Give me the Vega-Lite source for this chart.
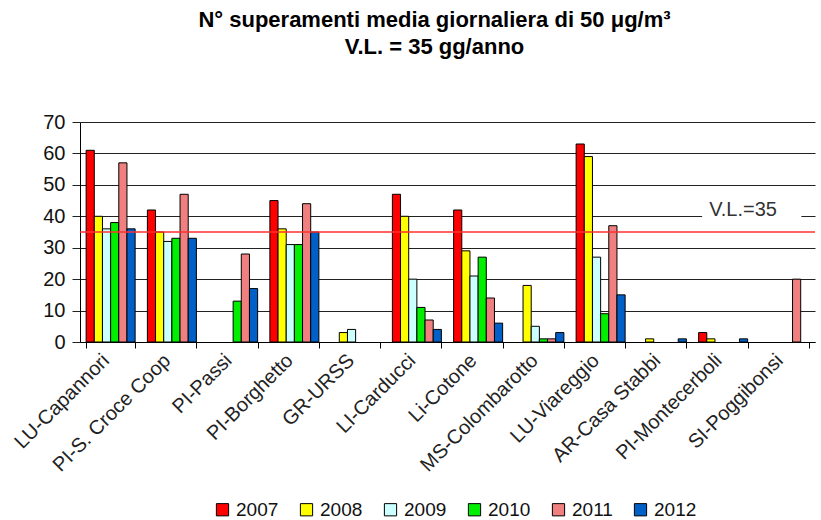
{
  "$schema": "https://vega.github.io/schema/vega-lite/v6.json",
  "width": 735,
  "height": 220,
  "autosize": {"type": "none"},
  "padding": {"left": 80, "top": 122, "right": 6, "bottom": 178},
  "background": "white",
  "config": {
    "view": {"stroke": null},
    "font": "Liberation Sans"
  },
  "title": {
    "text": ["N° superamenti media giornaliera di 50 μg/m³", "V.L. =  35 gg/anno"],
    "fontSize": 22,
    "fontWeight": "bold",
    "lineHeight": 27,
    "offset": 53,
    "anchor": "middle",
    "dx": -13,
    "color": "black",
    "font": "Liberation Sans"
  },
  "encoding": {
    "y": {
      "field": "value",
      "type": "quantitative",
      "scale": {"domain": [0, 70], "nice": false},
      "axis": {
        "title": null,
        "tickCount": 10,
        "values": [0, 10, 20, 30, 40, 50, 60, 70],
        "labelOverlap": false,
        "tickSize": 8,
        "labelFontSize": 20,
        "labelPadding": 7,
        "labelColor": "#111",
        "grid": true,
        "gridColor": "#222",
        "gridWidth": 1,
        "tickColor": "#222",
        "domainColor": "black"
      }
    }
  },
  "layer": [
    {
      "data": {
        "values": [
          {"station": "LU-Capannori", "year": "2007", "value": 61},
          {"station": "LU-Capannori", "year": "2008", "value": 40},
          {"station": "LU-Capannori", "year": "2009", "value": 36},
          {"station": "LU-Capannori", "year": "2010", "value": 38},
          {"station": "LU-Capannori", "year": "2011", "value": 57},
          {"station": "LU-Capannori", "year": "2012", "value": 36},
          {"station": "PI-S. Croce Coop", "year": "2007", "value": 42},
          {"station": "PI-S. Croce Coop", "year": "2008", "value": 35},
          {"station": "PI-S. Croce Coop", "year": "2009", "value": 32},
          {"station": "PI-S. Croce Coop", "year": "2010", "value": 33},
          {"station": "PI-S. Croce Coop", "year": "2011", "value": 47},
          {"station": "PI-S. Croce Coop", "year": "2012", "value": 33},
          {"station": "PI-Passi", "year": "2010", "value": 13},
          {"station": "PI-Passi", "year": "2011", "value": 28},
          {"station": "PI-Passi", "year": "2012", "value": 17},
          {"station": "PI-Borghetto", "year": "2007", "value": 45},
          {"station": "PI-Borghetto", "year": "2008", "value": 36},
          {"station": "PI-Borghetto", "year": "2009", "value": 31},
          {"station": "PI-Borghetto", "year": "2010", "value": 31},
          {"station": "PI-Borghetto", "year": "2011", "value": 44},
          {"station": "PI-Borghetto", "year": "2012", "value": 35},
          {"station": "GR-URSS", "year": "2008", "value": 3},
          {"station": "GR-URSS", "year": "2009", "value": 4},
          {"station": "LI-Carducci", "year": "2007", "value": 47},
          {"station": "LI-Carducci", "year": "2008", "value": 40},
          {"station": "LI-Carducci", "year": "2009", "value": 20},
          {"station": "LI-Carducci", "year": "2010", "value": 11},
          {"station": "LI-Carducci", "year": "2011", "value": 7},
          {"station": "LI-Carducci", "year": "2012", "value": 4},
          {"station": "Li-Cotone", "year": "2007", "value": 42},
          {"station": "Li-Cotone", "year": "2008", "value": 29},
          {"station": "Li-Cotone", "year": "2009", "value": 21},
          {"station": "Li-Cotone", "year": "2010", "value": 27},
          {"station": "Li-Cotone", "year": "2011", "value": 14},
          {"station": "Li-Cotone", "year": "2012", "value": 6},
          {"station": "MS-Colombarotto", "year": "2008", "value": 18},
          {"station": "MS-Colombarotto", "year": "2009", "value": 5},
          {"station": "MS-Colombarotto", "year": "2010", "value": 1},
          {"station": "MS-Colombarotto", "year": "2011", "value": 1},
          {"station": "MS-Colombarotto", "year": "2012", "value": 3},
          {"station": "LU-Viareggio", "year": "2007", "value": 63},
          {"station": "LU-Viareggio", "year": "2008", "value": 59},
          {"station": "LU-Viareggio", "year": "2009", "value": 27},
          {"station": "LU-Viareggio", "year": "2010", "value": 9},
          {"station": "LU-Viareggio", "year": "2011", "value": 37},
          {"station": "LU-Viareggio", "year": "2012", "value": 15},
          {"station": "AR-Casa Stabbi", "year": "2008", "value": 1},
          {"station": "AR-Casa Stabbi", "year": "2012", "value": 1},
          {"station": "PI-Montecerboli", "year": "2007", "value": 3},
          {"station": "PI-Montecerboli", "year": "2008", "value": 1},
          {"station": "PI-Montecerboli", "year": "2012", "value": 1},
          {"station": "SI-Poggibonsi", "year": "2011", "value": 20}
        ]
      },
      "mark": {"type": "bar", "stroke": "black", "strokeWidth": 1},
      "encoding": {
        "x": {
          "field": "station",
          "type": "nominal",
          "scale": {
            "domain": ["LU-Capannori", "PI-S. Croce Coop", "PI-Passi", "PI-Borghetto", "GR-URSS", "LI-Carducci", "Li-Cotone", "MS-Colombarotto", "LU-Viareggio", "AR-Casa Stabbi", "PI-Montecerboli", "SI-Poggibonsi"],
            "paddingInner": 0.2,
            "paddingOuter": 0.1
          },
          "axis": {
            "title": null,
            "tickBand": "extent",
            "labelAngle": -45,
            "labelFontSize": 20,
            "labelPadding": 2,
            "labelOffset": -12,
            "labelColor": "#222",
            "tickSize": 6,
            "tickColor": "black",
            "domainColor": "black",
            "grid": false
          }
        },
        "xOffset": {"field": "year", "type": "nominal"},
        "color": {
          "field": "year",
          "type": "nominal",
          "scale": {
            "domain": ["2007", "2008", "2009", "2010", "2011", "2012"],
            "range": ["#FF0000", "#FFFF00", "#CCFFFF", "#00EE00", "#F08080", "#0060C8"]
          },
          "legend": {
            "title": null,
            "orient": "none",
            "legendX": 133,
            "legendY": 378,
            "direction": "horizontal",
            "symbolType": "square",
            "symbolSize": 150,
            "symbolStrokeColor": "black",
            "symbolStrokeWidth": 1,
            "symbolOpacity": 1,
            "labelFontSize": 19,
            "labelColor": "#111",
            "labelOffset": 4,
            "columnPadding": 18
          }
        }
      }
    },
    {
      "data": {"values": [{"s1": "PI-Montecerboli", "s2": "SI-Poggibonsi", "value": 38.6, "value2": 41.4}]},
      "mark": {"type": "rect", "color": "white", "opacity": 1, "xOffset": -21, "x2Offset": 17},
      "encoding": {
        "x": {"field": "s1", "type": "nominal"},
        "x2": {"field": "s2"},
        "y2": {"field": "value2"}
      }
    },
    {
      "data": {"values": [{"station": "PI-Montecerboli", "value": 42, "label": "V.L.=35"}]},
      "mark": {"type": "text", "fontSize": 20, "color": "#333", "font": "Liberation Sans", "baseline": "middle", "align": "center", "dx": 20},
      "encoding": {
        "x": {"field": "station", "type": "nominal"},
        "text": {"field": "label"}
      }
    },
    {
      "data": {"values": [{"value": 35}]},
      "mark": {"type": "rule", "color": "#FF3030", "strokeWidth": 1.5},
      "encoding": {}
    }
  ]
}
